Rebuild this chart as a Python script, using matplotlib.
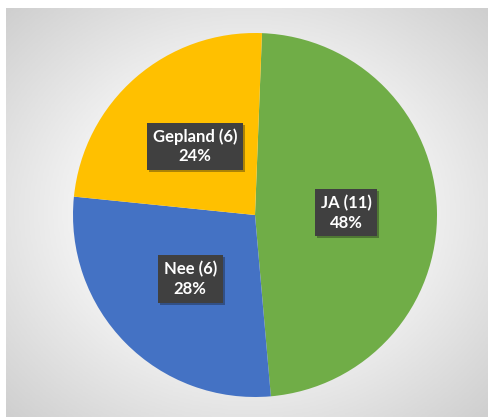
import numpy as np
import matplotlib.pyplot as plt
import matplotlib.patheffects as pe
from matplotlib.colors import LinearSegmentedColormap

# --- data ---
labels = ['JA', 'Nee', 'Gepland']
counts = [11, 6, 6]
percents = [48, 28, 24]
colors = ['#70AD47', '#4472C4', '#FFC000']

W, H = 493, 417
fig = plt.figure(figsize=(W / 100, H / 100), dpi=100)
fig.patch.set_facecolor('white')

# radial grey background
bg = fig.add_axes([6 / W, 0, 482 / W, 409 / H])
gx, gy = np.meshgrid(np.linspace(-1, 1, 300), np.linspace(-1, 1, 260))
rr = np.sqrt(gx ** 2 + gy ** 2) / np.sqrt(2)
cmap = LinearSegmentedColormap.from_list('bg', ['#ffffff', '#f2f2f2', '#cfcfcf'])
bg.imshow(rr, cmap=cmap, aspect='auto', vmin=0, vmax=1)
bg.axis('off')

# pie
cx, cy, r = 255, 417 - 215, 182
ax = fig.add_axes([(cx - r) / W, (cy - r) / H, 2 * r / W, 2 * r / H])
wedges, _ = ax.pie(percents, colors=colors, startangle=87.8, counterclock=False,
                   radius=1, wedgeprops=dict(linewidth=0))
ax.set_xlim(-1, 1)
ax.set_ylim(-1, 1)
ax.set_aspect('equal')
ax.axis('off')

for w, lab, n, p in zip(wedges, labels, counts, percents):
    ang = np.deg2rad((w.theta1 + w.theta2) / 2)
    x, y = 0.5 * np.cos(ang), 0.5 * np.sin(ang)
    t = ax.text(x, y, f'{lab} ({n})\n{p}%', ha='center', va='center',
                fontsize=12, fontweight='bold', family=['Lato', 'DejaVu Sans'],
                color='white', linespacing=1.25,
                bbox=dict(boxstyle='square,pad=0.35', fc='#404040', ec='none'))
    t.get_bbox_patch().set_path_effects(
        [pe.SimplePatchShadow(offset=(1.5, -1.5), alpha=0.35), pe.Normal()])

fig.savefig('out.png', dpi=100)
